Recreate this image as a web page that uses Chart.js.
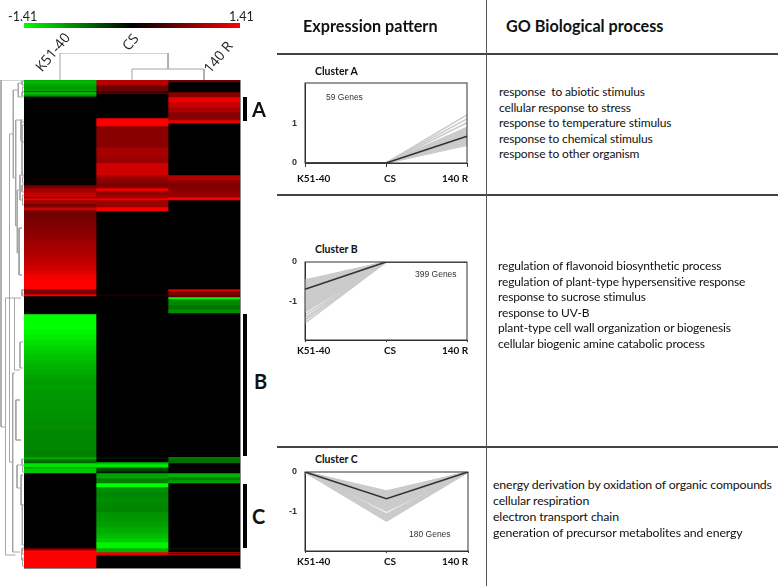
<!DOCTYPE html>
<html><head><meta charset="utf-8">
<script src="https://cdn.jsdelivr.net/npm/chart.js@4"></script>
<style>
html,body{margin:0;padding:0;background:#fff;width:778px;height:586px;overflow:hidden}
#s{position:relative;width:778px;height:586px;overflow:hidden}
canvas{position:absolute}
.t{position:absolute;white-space:pre;font-family:Lato,sans-serif;color:#111;line-height:1;transform:translateY(-50%)}
.b{font-weight:700}
.r{position:absolute}
</style></head><body><div id="s"></div>
<script>
const columns=['K51-40','CS','140 R'];
const colorMax=1.41;
// heat map bands of each column: [last row of the band, z value]
const bandsK51=[[1,-.95],[3,-1.05],[6,-.95],[9,-.85],[11,-.9],[12,-.5],[14,-1.1],[16,-.85],[17,-.4],[97,0],[105,.06],[108,.6],[112,.9],[113,1],[117,1.1],[118,.5],[120,1.3],[124,.9],[126,.5],[128,.9],[130,1.2],[135,.62],[140,.65],[145,.68],[150,.72],[155,.76],[160,.82],[165,.87],[170,.92],[175,.97],[180,1.02],[185,1.08],[190,1.14],[195,1.25],[200,1.37],[209,1.41],[214,.7],[216,1.3],[233,0],[234,.3],[250,-1.41],[255,-1.36],[260,-1.3],[265,-1.24],[270,-1.18],[275,-1.12],[280,-1.07],[285,-1.02],[290,-.98],[295,-.94],[300,-.9],[310,-.87],[320,-.84],[330,-.82],[340,-.8],[350,-.78],[360,-.76],[370,-.74],[377,-.72],[379,-.95],[381,-.65],[383,-.55],[387,-1.25],[388,-.85],[393,-1.1],[468,0],[470,.7],[488,1.41]];
const bandsCS=[[5,1],[11,.6],[12,.15],[14,.4],[38,0],[46,1.41],[67,.75],[77,.9],[83,.85],[95,1.15],[98,.95],[103,.75],[108,.7],[111,1.3],[115,.8],[118,.9],[120,1.3],[127,.85],[131,1.35],[214,0],[216,.15],[377,0],[379,-.1],[382,0],[384,-1.05],[387,-1.3],[388,-.7],[391,-.4],[393,-.15],[397,-.9],[398,-1],[403,-.7],[407,-1.41],[412,-.78],[417,-.74],[422,-.78],[427,-.75],[432,-.73],[437,-.82],[442,-.85],[447,-.88],[452,-.95],[455,-1],[458,-1.05],[462,-1.12],[468,-1.35],[472,-1],[475,1.3],[488,0]];
const bandsR140=[[2,.6],[12,0],[17,.75],[22,1.3],[27,1.1],[32,.95],[40,.75],[43,1.3],[95,0],[100,1],[103,.8],[107,.7],[112,.75],[117,.85],[120,1.35],[209,0],[211,1.2],[215,.7],[217,.5],[219,-1.4],[225,-.75],[229,-.65],[233,-.8],[377,0],[378,-.9],[383,-.6],[393,0],[397,-1],[400,-.7],[403,-.9],[468,0],[469,-.15],[472,0],[473,1.2],[474,0],[475,1.2],[488,0]];
// row dendrogram: [distance, top row, bottom row, top child distance, bottom child distance]
const rowTree=[[23,0,347,0,18.5],[18.5,218,475,9.5,8.5],[14.5,54,382,10.7,11],[10.7,10,98,5.7,8.3],[8.3,40,146,2.8,6.7],[5.7,3,17,1,1],[3,40,60,1,1],[2.7,42,62,0,0],[2,45,95,0,0],[6.7,110,173,3.5,4.5],[4,95,120,1,1],[5,148,195,2,2],[4.6,148,195,2,2],[2,210,216,0,0],[9.5,218,290,3,4],[11.3,293,472,9,4],[8.5,320,360,4,3],[8.1,320,360,4,3],[7,385,408,2,3],[3,395,425,1,1],[2.6,395,425,1,1],[1.7,425,465,0,0],[4,262,288,1,1],[2,1,5,0,0],[1.5,7,12,0,0],[2,12,16,0,0],[1.5,97,103,0,0],[2,105,112,0,0],[1.5,115,125,0,0],[2.5,210,214,0,0],[2,379,385,0,0],[1.5,386,392,0,0],[2,468,474,0,0],[1.5,478,486,0,0],[2.5,470,480,0,0]];
// column dendrogram: [height, left column position, right column position, left child height, right child height]
const colTree=[[27,.5,2,0,11],[11,1.5,2.5,0,0]];
// cluster profiles at K51-40, CS and 140 R
const clusterA_mean=[0,0,.68];
const clusterA_genes=[.45,.47,.5,.52,.54,.57,.59,.61,.63,.66,.68,.7,.73,.75,.77,.8,.82,.84,.87,.9,1.02,1.12,1.22];
const clusterB_mean=[-.68,0,0];
const clusterB_genes=[-.45,-.47,-.5,-.52,-.55,-.57,-.6,-.62,-.65,-.67,-.7,-.72,-.75,-.77,-.8,-.82,-.85,-.87,-.9,-.92,-.95,-.97,-1,-1.02,-1.05,-1.07,-1.1,-1.12,-1.15,-1.17,-1.2,-1.22,-1.25,-1.32,-1.39,-1.45,-1.52];
const clusterC_mean=[0,-.67,0];
const clusterC_genes=[-.48,-.5,-.53,-.55,-.58,-.6,-.63,-.65,-.68,-.7,-.73,-.75,-.78,-.8,-.83,-.85,-.88,-.9,-.93,-.95,-.98,-1.05,-1.08,-1.1,-1.13,-1.15,-1.18,-1.2,-1.23];
const goA=['response  to abiotic stimulus','cellular response to stress','response to temperature stimulus','response to chemical stimulus','response to other organism'];
const goB=['regulation of flavonoid biosynthetic process','regulation of plant-type hypersensitive response','response to sucrose stimulus','response to UV-B','plant-type cell wall organization or biogenesis','cellular biogenic amine catabolic process'];
const goC=['energy derivation by oxidation of organic compounds','cellular respiration','electron transport chain','generation of precursor metabolites and energy'];

const S=document.getElementById('s');
Chart.defaults.animation=false;Chart.defaults.responsive=false;
Chart.defaults.plugins.legend.display=false;Chart.defaults.plugins.tooltip.enabled=false;
function cv(x,y,w,h){const c=document.createElement('canvas');c.width=w;c.height=h;c.style.cssText=`left:${x}px;top:${y}px;width:${w}px;height:${h}px`;S.appendChild(c);return c;}
function txt(s,x,y,size,bold,extra){const d=document.createElement('div');d.className='t'+(bold?' b':'');d.textContent=s;d.style.cssText=`left:${x}px;top:${y}px;font-size:${size}px;${extra||''}`;S.appendChild(d);return d;}
function rect(x,y,w,h,c){const d=document.createElement('div');d.className='r';d.style.cssText=`left:${x}px;top:${y}px;width:${w}px;height:${h}px;background:${c}`;S.appendChild(d);}
function zColor(v){const k=Math.round(Math.min(1,Math.abs(v)/colorMax)*255);return v>=0?`rgb(${k},0,0)`:`rgb(0,${k},0)`;}

// colour key
new Chart(cv(24,23,216,5),{type:'bar',data:{labels:['z'],datasets:[{data:[[-colorMax,colorMax]],barPercentage:1,categoryPercentage:1,borderWidth:0,
 backgroundColor:c=>{const a=c.chart.chartArea;if(!a)return '#000';const g=c.chart.ctx.createLinearGradient(a.left,0,a.right,0);g.addColorStop(0,'#00ff00');g.addColorStop(.5,'#000');g.addColorStop(1,'#ff0000');return g;}}]},
 options:{indexAxis:'y',scales:{x:{display:false,min:-colorMax,max:colorMax},y:{display:false}}}});
txt('-'+colorMax,8,17,12.5,false,'color:#222');
txt(''+colorMax,229,17,12.5,false,'color:#222');

// heat map
const heatSets=[];
[bandsK51,bandsCS,bandsR140].forEach((bands,col)=>{let s=0;bands.forEach(([e,v])=>{const d=[null,null,null];d[col]=[s,e];heatSets.push({data:d,backgroundColor:zColor(v),barPercentage:1,categoryPercentage:1,grouped:false,borderWidth:0});s=e;});});
new Chart(cv(24,80,216,488),{type:'bar',data:{labels:columns,datasets:heatSets},options:{scales:{x:{display:false},y:{display:false,min:0,max:488,reverse:true}}}});
rect(24,568,216,1,'#8a8a8a');rect(240,80,1,489,'#8a8a8a');

// dendrograms
function treeSet(pts){return {data:pts,showLine:true,pointRadius:0,borderColor:'#a6a6a6',borderWidth:1,spanGaps:false,clip:false};}
const rowPts=[];rowTree.forEach(([d,a,b,da,db])=>{rowPts.push({x:da,y:a},{x:d,y:a},{x:d,y:b},{x:db,y:b},{x:null,y:null});});
new Chart(cv(0,80,24,488),{type:'scatter',data:{datasets:[treeSet(rowPts)]},options:{scales:{x:{display:false,min:0,max:24,reverse:true},y:{display:false,min:0,max:488,reverse:true}}}});
const colPts=[];colTree.forEach(([h,a,b,ha,hb])=>{colPts.push({x:a,y:ha},{x:a,y:h},{x:b,y:h},{x:b,y:hb},{x:null,y:null});});
new Chart(cv(24,53,216,27),{type:'scatter',data:{datasets:[treeSet(colPts)]},options:{scales:{x:{display:false,min:0,max:3},y:{display:false,min:0,max:27}}}});
const rot='transform:translateY(-50%) rotate(-50deg);color:#222;font-family:"Open Sans"';
txt(columns[0],30,52,14,false,rot);
txt(columns[1],122,42,14,false,rot);
txt(columns[2],200,57,14,false,rot);

// cluster marks
rect(243,97,4,24,'#000');rect(243,314,4,142,'#000');rect(243,484,4,64,'#000');
txt('A',252,109,20,true);txt('B',254,381,20,true);txt('C',252,516,20,true);

// cluster line charts
const boxPlugin={id:'box',afterDraw(c){const a=c.chartArea,x=c.ctx;x.save();x.strokeStyle='#333';x.lineWidth=1;x.strokeRect(a.left,a.top,a.right-a.left,a.bottom-a.top);x.restore();}};
function noPad(s){s.paddingTop=s.paddingBottom=s.paddingLeft=s.paddingRight=0;}
function cluster(box,min,max,genes,mean,build,tick){
 const sets=[{data:mean,borderColor:'#333',borderWidth:1.6,pointRadius:0,tension:0}];
 genes.forEach(v=>sets.push({data:build(v),borderColor:'#cbcbcb',borderWidth:1.6,pointRadius:0,tension:0}));
 const pad=6;
 new Chart(cv(280,box.top-pad,200,box.h+pad+10),{type:'line',data:{labels:columns,datasets:sets},plugins:[boxPlugin],
  options:{layout:{padding:{top:pad,right:200-25-box.w,left:0,bottom:0}},
  scales:{x:{offset:false,afterFit:s=>{s.height=10;noPad(s);},grid:{drawOnChartArea:false,tickLength:tick,color:'#333'},border:{color:'#333'},ticks:{display:true,color:'rgba(0,0,0,0)',font:{size:1},padding:0,autoSkip:false,maxRotation:0}},
  y:{min,max,afterFit:s=>{s.width=25;noPad(s);},grid:{display:false,drawTicks:false},border:{color:'#333'},afterBuildTicks:s=>{s.ticks=s.ticks.filter(t=>Math.abs(t.value)<=1);},ticks:{stepSize:1,padding:8,color:'#333',font:{size:9,family:'Liberation Sans',weight:'bold'}}}}}});
}
cluster({top:83,h:80,w:162},0,2.03,clusterA_genes,clusterA_mean,v=>[0,0,v],4);
cluster({top:262,h:78,w:162},-1.95,0,clusterB_genes,clusterB_mean,v=>[v,0,0],2);
cluster({top:472,h:79,w:163},-1.98,0,clusterC_genes,clusterC_mean,v=>[0,v,0],2);
[[71,'Cluster A'],[249,'Cluster B'],[459,'Cluster C']].forEach(([y,s])=>txt(s,315,y,10.5,true));
[178,350,561].forEach(y=>{txt(columns[0],297,y,10,true,'letter-spacing:-.1px');txt(columns[1],384,y,10,true);txt(columns[2],442,y,10,true);});
const small='font-family:"Liberation Sans";color:#333';
txt('59 Genes',326,97,8.5,false,small);
txt('399 Genes',415,274,8.5,false,small);
txt('180 Genes',409,534,8.5,false,small);

// table rules and text
rect(277,53,501,1.5,'#444');rect(277,194,501,1.5,'#444');rect(277,446,501,1.5,'#444');rect(485.5,0,1.5,586,'#555');
txt('Expression pattern',303,26,16.2,true);txt('GO Biological process',506,26,16.2,true);
const go='letter-spacing:-.13px';
goA.forEach((s,i)=>txt(s,499,92+i*15.5,12,false,go));
goB.forEach((s,i)=>txt(s,498,266+i*15.6,12,false,go));
goC.forEach((s,i)=>txt(s,493,485+i*16,12.3,false,go));
</script></body></html>
